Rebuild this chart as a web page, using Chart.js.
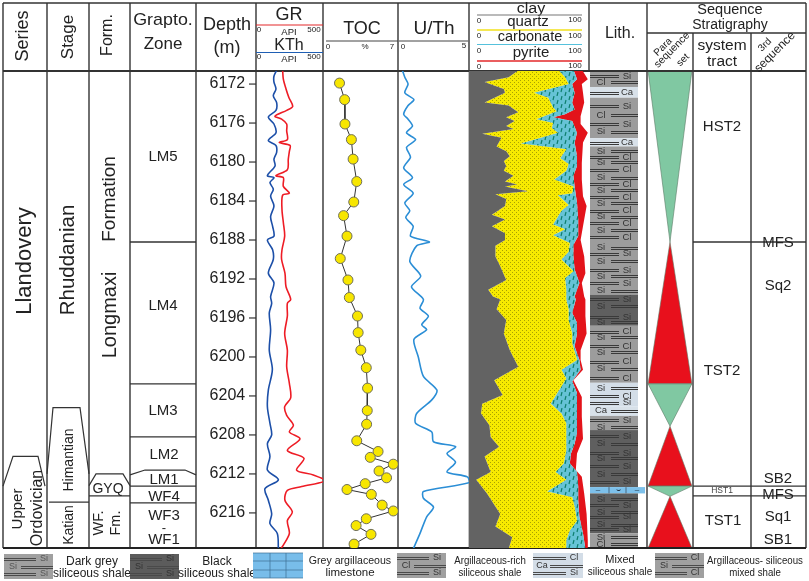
<!DOCTYPE html>
<html>
<head>
<meta charset="utf-8">
<script src="https://cdn.jsdelivr.net/npm/chart.js@4"></script>
<style>
  html, body { margin: 0; padding: 0; background: #fff; }
  canvas { display: block; }
</style>
</head>
<body>
<canvas id="well_chart" width="809" height="581"></canvas>
<script>
// column widths of the log, left to right
const columnIds = ['xSeries', 'xStage', 'xForm', 'xZone', 'xDepth', 'xGR', 'xTOC', 'xUTh', 'xComp', 'xLith', 'xPara', 'xTract', 'xSeq'];
const columnWidths = [44, 42, 41, 66, 60, 67, 75, 71, 120, 58, 46, 58, 55];

// GR / KTh (API)
const grDepth = [6170.6, 6171.5, 6172.5, 6173.4, 6174.3, 6174.7, 6175.3, 6175.6, 6176.1, 6176.8, 6177.7, 6178.0, 6178.3, 6178.9, 6179.7, 6180.8, 6181.4, 6181.6, 6182.5, 6183.2, 6183.4, 6184.9, 6186.2, 6187.6, 6189.0, 6190.0, 6191.4, 6192.8, 6194.1, 6194.5, 6195.8, 6197.6, 6199.3, 6201.0, 6202.7, 6204.2, 6205.1, 6206.0, 6207.0, 6207.7, 6208.4, 6209.6, 6210.4, 6211.6, 6212.1, 6212.7, 6213.3, 6213.7, 6214.7, 6215.9, 6216.8, 6218.1, 6219.3, 6219.7];
const grValues = [199, 204, 224, 246, 274, 229, 142, 191, 229, 229, 234, 174, 254, 249, 241, 234, 149, 204, 204, 249, 199, 194, 204, 214, 194, 191, 216, 224, 259, 234, 234, 214, 234, 229, 249, 259, 214, 229, 279, 249, 328, 234, 358, 303, 428, 515, 341, 234, 216, 271, 234, 249, 204, 184];
const kthDepth = [6170.6, 6171.2, 6171.8, 6172.5, 6173.2, 6173.9, 6174.7, 6175.4, 6176.1, 6177.0, 6177.8, 6178.3, 6179.0, 6179.7, 6180.4, 6181.4, 6181.6, 6182.1, 6182.8, 6183.5, 6184.5, 6185.6, 6186.6, 6187.6, 6188.0, 6189.0, 6190.0, 6191.4, 6192.4, 6193.8, 6194.5, 6195.5, 6197.2, 6199.3, 6201.3, 6203.4, 6205.1, 6206.8, 6208.0, 6208.9, 6210.2, 6211.6, 6212.6, 6213.5, 6214.7, 6216.1, 6217.1, 6218.1, 6219.7];
const kthValues = [154, 134, 134, 149, 129, 154, 149, 92, 134, 149, 92, 149, 154, 134, 142, 85, 134, 104, 129, 109, 134, 109, 124, 134, 85, 124, 129, 92, 134, 109, 117, 99, 109, 99, 122, 92, 85, 104, 117, 85, 104, 85, 167, 67, 92, 117, 104, 159, 167];

// TOC (%)
const tocDepth = [6171.9, 6173.6, 6176.1, 6177.7, 6179.7, 6182.0, 6184.1, 6185.5, 6187.6, 6189.9, 6192.1, 6193.9, 6195.8, 6197.5, 6199.3, 6201.1, 6203.2, 6205.5, 6206.9, 6208.6, 6209.7, 6210.3, 6211.0, 6211.7, 6212.4, 6213.0, 6213.6, 6214.1, 6215.2, 6215.8, 6216.6, 6217.3, 6218.2, 6219.2];
const tocValues = [1.54, 2.02, 2.05, 2.65, 2.81, 3.15, 2.87, 1.92, 2.24, 1.61, 2.33, 2.46, 3.22, 3.28, 3.53, 4.04, 4.16, 4.13, 4.07, 3.15, 5.14, 4.41, 6.56, 5.23, 5.93, 3.94, 2.24, 4.51, 5.52, 6.56, 4.04, 3.09, 4.48, 2.90];

// U/Th
const uthDepth = [6170.6, 6171.3, 6172.0, 6172.9, 6173.6, 6174.2, 6175.1, 6175.6, 6176.3, 6177.0, 6177.7, 6178.5, 6179.5, 6180.6, 6181.6, 6182.3, 6183.2, 6184.2, 6185.0, 6185.7, 6186.6, 6187.6, 6188.2, 6188.6, 6190.2, 6191.7, 6192.8, 6194.1, 6195.0, 6195.8, 6196.7, 6197.2, 6198.2, 6200.0, 6202.0, 6203.4, 6204.4, 6205.8, 6206.8, 6207.7, 6208.7, 6209.2, 6209.9, 6210.8, 6211.8, 6212.3, 6212.9, 6213.8, 6214.5, 6215.4, 6216.4, 6218.1, 6219.7];
const uthValues = [0.31, 0.48, 0.71, 0.48, 1.12, 0.71, 0.40, 0.71, 1.02, 0.60, 1.24, 0.60, 0.88, 0.40, 1.02, 0.40, 1.07, 0.48, 0.83, 0.55, 1.07, 0.88, 2.21, 1.31, 0.83, 1.60, 0.95, 1.79, 1.55, 2.14, 1.67, 2.02, 1.12, 1.43, 1.79, 2.74, 2.38, 1.31, 1.24, 2.38, 2.50, 4.05, 3.45, 4.05, 3.45, 4.88, 5.00, 1.79, 1.79, 2.50, 2.02, 1.55, 1.07];

// mineral composition, right edge of each layer (cumulative %)
const clayDepth = [6170.6, 6171.3, 6171.8, 6172.2, 6172.5, 6172.9, 6173.9, 6174.2, 6174.9, 6175.4, 6175.8, 6176.3, 6176.6, 6177.1, 6177.5, 6178.4, 6178.9, 6179.4, 6179.9, 6180.4, 6180.9, 6181.4, 6182.0, 6182.3, 6182.5, 6183.0, 6183.3, 6183.8, 6184.5, 6185.4, 6185.9, 6186.6, 6187.3, 6188.0, 6188.6, 6189.7, 6190.7, 6192.1, 6193.1, 6193.8, 6194.1, 6195.1, 6196.2, 6197.6, 6199.3, 6201.0, 6202.4, 6203.9, 6204.8, 6205.8, 6207.0, 6208.2, 6209.2, 6210.2, 6211.8, 6212.6, 6214.0, 6216.1, 6217.4, 6218.5, 6219.7];
const clayEdge = [41, 33, 13, 22, 29, 30, 13, 33, 41, 31, 38, 31, 37, 11, 27, 23, 31, 34, 29, 31, 29, 37, 30, 40, 30, 49, 22, 31, 30, 19, 30, 19, 30, 30, 22, 22, 26, 31, 16, 20, 26, 23, 31, 29, 34, 41, 21, 28, 11, 10, 17, 18, 25, 13, 18, 6, 15, 26, 22, 36, 33];
const quartzDepth = [6170.5, 6171.3, 6172.0, 6172.9, 6173.4, 6174.4, 6174.8, 6175.6, 6176.0, 6176.5, 6177.0, 6178.1, 6178.7, 6179.6, 6180.2, 6180.9, 6181.8, 6182.5, 6183.2, 6183.4, 6184.4, 6185.0, 6186.4, 6186.9, 6187.5, 6188.3, 6189.2, 6190.0, 6191.2, 6191.9, 6193.1, 6194.1, 6195.1, 6196.2, 6197.6, 6198.6, 6200.3, 6201.3, 6202.2, 6203.2, 6204.8, 6205.8, 6206.8, 6208.2, 6209.6, 6210.9, 6211.8, 6212.6, 6213.8, 6214.4, 6215.4, 6216.8, 6217.8, 6218.8, 6219.7];
const quartzEdge = [74, 80, 83, 54, 66, 70, 73, 56, 70, 69, 74, 43, 81, 76, 83, 81, 71, 87, 86, 74, 83, 77, 70, 80, 70, 84, 83, 77, 87, 80, 81, 81, 83, 83, 86, 86, 90, 77, 81, 76, 68, 77, 81, 81, 81, 79, 72, 81, 65, 86, 88, 90, 84, 81, 81];
const carbonateDepth = [6170.5, 6171.5, 6172.0, 6172.9, 6173.9, 6174.6, 6175.1, 6175.4, 6175.8, 6177.0, 6178.0, 6179.4, 6180.4, 6181.4, 6182.5, 6184.2, 6185.9, 6187.6, 6188.5, 6189.7, 6191.0, 6192.4, 6193.8, 6194.1, 6195.5, 6196.5, 6197.6, 6198.9, 6200.3, 6201.3, 6202.5, 6203.7, 6205.8, 6207.8, 6208.9, 6209.9, 6210.9, 6211.8, 6213.3, 6214.7, 6216.4, 6218.1, 6219.7];
const carbonateEdge = [87, 90, 86, 88, 86, 88, 80, 70, 86, 90, 88, 90, 90, 87, 88, 90, 91, 91, 87, 87, 88, 92, 88, 89, 86, 90, 90, 88, 92, 93, 86, 90, 90, 90, 88, 85, 84, 90, 91, 91, 92, 95, 97];
const pyriteDepth = [6170.5, 6171.5, 6172.0, 6172.9, 6173.9, 6175.3, 6176.1, 6177.0, 6178.0, 6180.1, 6181.8, 6183.5, 6184.5, 6186.6, 6188.0, 6189.7, 6191.4, 6192.4, 6193.8, 6194.1, 6195.8, 6197.6, 6199.3, 6200.3, 6201.3, 6202.4, 6204.1, 6206.1, 6208.4, 6209.9, 6211.6, 6212.3, 6214.0, 6216.1, 6218.8, 6219.7];
const pyriteEdge = [94, 99, 94, 95, 96, 93, 93, 99, 95, 94, 94, 95, 98, 95, 93, 96, 97, 94, 96, 97, 97, 98, 93, 93, 95, 87, 94, 94, 95, 90, 89, 94, 96, 98, 99, 99];

// lithology
const lithBandTop = [6170.66, 6172.3, 6173.4, 6177.55, 6178.4, 6193.6, 6196.8, 6202.65, 6205.1, 6206.05, 6207.5, 6213.35, 6214.0, 6218.1];
const lithBandBase = [6172.3, 6173.4, 6177.55, 6178.4, 6193.6, 6196.8, 6202.65, 6205.1, 6206.05, 6207.5, 6213.35, 6214.0, 6218.1, 6219.6];
const lithBandType = ['grey', 'ca', 'grey', 'ca', 'grey', 'dark', 'grey', 'light', 'ca', 'grey', 'dark', 'lime', 'dark', 'grey'];
const lithRowDepth = [6171.2, 6171.8, 6172.9, 6174.3, 6175.2, 6176.1, 6176.9, 6178.0, 6178.9, 6179.5, 6180.0, 6180.8, 6181.6, 6182.3, 6182.9, 6183.6, 6184.2, 6185.0, 6185.6, 6186.3, 6187.0, 6187.7, 6188.8, 6189.4, 6190.2, 6191.1, 6191.7, 6192.4, 6193.2, 6194.1, 6194.8, 6195.9, 6196.4, 6197.4, 6198.0, 6198.9, 6199.5, 6200.5, 6201.2, 6202.2, 6203.2, 6204.0, 6204.7, 6205.5, 6206.5, 6207.2, 6208.1, 6208.9, 6209.9, 6210.4, 6211.2, 6212.0, 6212.8, 6214.6, 6215.2, 6215.9, 6216.4, 6217.2, 6217.7, 6218.5, 6219.2];
const lithRowText = ['Si', 'Cl', 'Ca', 'Si', 'Cl', 'Si', 'Si', 'Ca', 'Si', 'Cl', 'Si', 'Cl', 'Si', 'Cl', 'Si', 'Cl', 'Si', 'Cl', 'Si', 'Cl', 'Si', 'Cl', 'Si', 'Si', 'Si', 'Si', 'Si', 'Si', 'Si', 'Si', 'Si', 'Si', 'Si', 'Cl', 'Si', 'Cl', 'Si', 'Cl', 'Si', 'Cl', 'Si', 'Cl', 'Si', 'Ca', 'Si', 'Si', 'Si', 'Si', 'Si', 'Si', 'Si', 'Si', 'Si', 'Si', 'Si', 'Si', 'Si', 'Si', 'Si', 'Si', 'Cl'];
const lithRowSide = 'RLRRLRLRLRLRLRLRLRLRLRLRLRLRLRLRLRLRLRLRLRRLRLRLRLRLRLRLRLR';

// stratigraphy boundaries
const zoneBoundaries = [6188.2, 6202.76, 6208.2, 6213.25, 6214.97];
const paraTop = [6170.66, 6188.2, 6202.76, 6207.1, 6213.25, 6214.3];
const paraBase = [6188.2, 6202.76, 6207.1, 6213.25, 6214.3, 6219.6];
const paraKind = ['down', 'up', 'down', 'up', 'down', 'up'];
const tractBoundaries = [6188.2, 6213.25, 6214.25];
const depthTicks = 4;

const makePattern = (bg, draw, size) => {
  const c = document.createElement('canvas');
  c.width = size; c.height = size;
  const g = c.getContext('2d');
  g.fillStyle = bg;
  g.fillRect(0, 0, size, size);
  draw(g);
  return g.createPattern(c, 'repeat');
};
const quartzFill = makePattern('#f7ea00', g => {
  g.fillStyle = '#a9a200';
  g.fillRect(0, 0, 1, 1);
  g.fillRect(2, 2, 1, 1);
}, 4);
const carbonateFill = makePattern('#66c3d6', g => {
  g.strokeStyle = '#0f7f6e';
  g.lineWidth = 1.2;
  g.beginPath();
  g.moveTo(2, 0); g.lineTo(1, 4);
  g.moveTo(6, 4); g.lineTo(5, 8);
  g.stroke();
}, 8);

const FONT = '"Liberation Sans", Arial, sans-serif';
const INK = '#222';

const pairs = (ys, xs) => ys.map((d, i) => ({x: xs[i], y: d}));
const trace = (label, xAxisID, ys, xs, color, extra) => Object.assign({
  label, xAxisID, yAxisID: 'y', indexAxis: 'y',
  data: pairs(ys, xs),
  borderColor: color, backgroundColor: color,
  borderWidth: 1.6, pointRadius: 0, tension: 0, fill: false
}, extra || {});

const text = (ctx, s, x, y, size, opts) => {
  opts = opts || {};
  ctx.save();
  ctx.translate(x, y);
  if (opts.rot) ctx.rotate(opts.rot * Math.PI / 180);
  if (opts.sx) ctx.scale(opts.sx, 1);
  ctx.font = size + 'px ' + FONT;
  ctx.fillStyle = opts.color || INK;
  ctx.textAlign = 'center';
  ctx.textBaseline = 'middle';
  ctx.fillText(s, 0, 0);
  ctx.restore();
};
const seg = (ctx, x1, y1, x2, y2, color, w) => {
  ctx.strokeStyle = color || '#333';
  ctx.lineWidth = w || 1.4;
  ctx.beginPath();
  ctx.moveTo(x1, y1);
  ctx.lineTo(x2, y2);
  ctx.stroke();
};
const poly = (ctx, pts) => {
  ctx.strokeStyle = '#333';
  ctx.lineWidth = 1.2;
  ctx.beginPath();
  pts.forEach((p, i) => i ? ctx.lineTo(p[0], p[1]) : ctx.moveTo(p[0], p[1]));
  ctx.stroke();
};

const bandColors = {grey: '#9c9c9c', dark: '#5f5f5f', light: '#d3dde7', ca: '#d8e1e9', lime: '#7dc0ea'};

const doubleLine = (ctx, a, b, py, color) => {
  const y0 = Math.round(py);
  seg(ctx, a, y0 - 0.5, b, y0 - 0.5, color, 1);
  seg(ctx, a, y0 + 1.5, b, y0 + 1.5, color, 1);
};

const swatch = (ctx, x, y, w, h, bg, labels) => {
  ctx.fillStyle = bg;
  ctx.fillRect(x, y, w, h);
  const rows = [y + 5, y + h / 2, y + h - 5];
  labels.forEach((l, i) => {
    const right = i % 2 === 0;
    text(ctx, l[0], right ? x + w - 9 : x + 9, rows[i], 9, {color: l[1]});
    doubleLine(ctx, right ? x : x + 17, right ? x + w - 17 : x + w, rows[i], '#4a4a4a');
  });
};

const wellLogPlugin = {
  id: 'wellLog',
  beforeDatasetsDraw(chart) {
    const {ctx, scales, chartArea} = chart;
    const y = scales.y;
    const top = 3, head = chartArea.top, bottom = chartArea.bottom;
    const L = id => scales[id].left, R = id => scales[id].right;

    // lithology column
    const lx0 = L('xLith') + 1, lx1 = R('xLith') - 9;
    lithBandTop.forEach((t, i) => {
      const y0 = y.getPixelForValue(t), y1 = y.getPixelForValue(lithBandBase[i]);
      const type = lithBandType[i];
      ctx.fillStyle = bandColors[type];
      ctx.fillRect(lx0, y0, (type === 'lime' ? R('xLith') - 2 : lx1) - lx0, y1 - y0);
      if (type === 'lime') {
        seg(ctx, lx0 + 19, y0, lx0 + 19, y1, '#345', 0.7);
        seg(ctx, lx0 + 36, y0, lx0 + 36, y1, '#345', 0.7);
        text(ctx, '–', lx0 + 8, (y0 + y1) / 2, 8, {color: '#234'});
        text(ctx, '⌣', lx0 + 28, (y0 + y1) / 2, 8, {color: '#234'});
        text(ctx, '–', lx0 + 47, (y0 + y1) / 2, 8, {color: '#234'});
      }
    });
    lithRowDepth.forEach((d, i) => {
      const py = y.getPixelForValue(d);
      const right = lithRowSide[i] === 'R';
      text(ctx, lithRowText[i], right ? lx1 - 11 : lx0 + 11, py, 9.5, {color: '#333'});
      doubleLine(ctx, right ? lx0 : lx0 + 21, right ? lx1 - 19 : lx1, py, '#3a3a3a');
    });

    // parasequence triangles
    const px = scales.xPara;
    paraTop.forEach((t, i) => {
      const y0 = y.getPixelForValue(t), y1 = y.getPixelForValue(paraBase[i]);
      ctx.beginPath();
      if (paraKind[i] === 'down') {
        ctx.moveTo(px.getPixelForValue(-1), y0);
        ctx.lineTo(px.getPixelForValue(1), y0);
        ctx.lineTo(px.getPixelForValue(0), y1);
        ctx.fillStyle = '#80c8a2';
      } else {
        ctx.moveTo(px.getPixelForValue(0), y0);
        ctx.lineTo(px.getPixelForValue(1), y1);
        ctx.lineTo(px.getPixelForValue(-1), y1);
        ctx.fillStyle = '#e8101c';
      }
      ctx.closePath();
      ctx.fill();
      ctx.strokeStyle = '#5c7a66';
      ctx.lineWidth = 0.6;
      ctx.stroke();
    });

    // depth tick marks
    y.ticks.forEach(t => {
      const py = y.getPixelForValue(t.value);
      seg(ctx, L('xGR') - 7, py, L('xGR'), py, '#333', 1.2);
    });

    // frame
    columnIds.forEach(id => {
      const x = L(id);
      if (id === 'xLith') seg(ctx, x, top, x, head);
      else if (id === 'xComp') {
        seg(ctx, x, top, x, head);
        seg(ctx, x, head, x, bottom, '#666', 0.8);
      } else if (id === 'xTract' || id === 'xSeq') seg(ctx, x, 33, x, bottom);
      else seg(ctx, x, top, x, bottom);
    });
    seg(ctx, R('xSeq'), top, R('xSeq'), bottom);
    seg(ctx, L('xSeries'), top, R('xSeq'), top);
    seg(ctx, L('xSeries'), head, R('xSeq'), head, '#333', 1.8);
    seg(ctx, L('xSeries'), bottom, R('xSeq'), bottom, '#222', 1.8);
    seg(ctx, L('xPara'), 33, R('xSeq'), 33);

    zoneBoundaries.forEach(d => {
      const py = y.getPixelForValue(d);
      seg(ctx, L('xZone'), py, R('xZone'), py);
    });
    tractBoundaries.forEach(d => {
      const py = y.getPixelForValue(d);
      seg(ctx, L('xTract'), py, R('xSeq'), py);
    });

    // stage / formation outlines
    const v = d => y.getPixelForValue(d);
    const sL = L('xSeries'), sR = R('xSeries');
    poly(ctx, [[sL, v(6213.25)], [sL + 10, v(6210.2)], [sR - 9, v(6210.2)], [sR - 2, v(6213.25)]]);
    const gL = L('xStage'), gR = R('xStage');
    poly(ctx, [[gL, v(6212.0)], [gL + 6, v(6205.2)], [gR - 9, v(6205.2)], [gR, v(6212.0)]]);
    seg(ctx, gL + 2, v(6214.9), gR, v(6214.9), '#333', 1.2);
    const fL = L('xForm'), fR = R('xForm');
    poly(ctx, [[fL, v(6213.2)], [fL + 7, v(6212.0)], [fR - 7, v(6212.0)], [fR, v(6213.2)]]);
    seg(ctx, fL, v(6214.25), fR, v(6214.25), '#333', 1.2);
    const zL = L('xZone'), zR = R('xZone');
    poly(ctx, [[zL, v(6212.1)], [zL + 15, v(6211.6)], [zR - 11, v(6211.6)], [zR, v(6212.1)]]);
  },
  afterDatasetsDraw(chart) {
    const {ctx} = chart;

    // column titles
    text(ctx, 'Series', 23, 36, 18, {rot: -90});
    text(ctx, 'Stage', 68, 37, 17, {rot: -90});
    text(ctx, 'Form.', 108, 35, 16, {rot: -90});
    text(ctx, 'Grapto.', 163, 20, 17, {sx: 1.05});
    text(ctx, 'Zone', 163, 44, 17);
    text(ctx, 'Depth', 227, 25, 18);
    text(ctx, '(m)', 227, 48, 18);

    // GR / KTh header
    text(ctx, 'GR', 289, 15, 18);
    seg(ctx, 256, 25, 323, 25, '#e3282a', 1.2);
    text(ctx, '0', 259, 30, 8);
    text(ctx, 'API', 289, 32, 9.5);
    text(ctx, '500', 314, 30, 8);
    text(ctx, 'KTh', 289, 46, 16);
    seg(ctx, 256, 52.5, 323, 52.5, '#1f5fb4', 1.2);
    text(ctx, '0', 259, 57, 8);
    text(ctx, 'API', 289, 59, 9.5);
    text(ctx, '500', 314, 57, 8);

    // TOC, U/Th header
    text(ctx, 'TOC', 362, 29, 18);
    seg(ctx, 326, 41, 398, 41, '#444', 1);
    text(ctx, '0', 328, 47, 8);
    text(ctx, '%', 365, 47, 8);
    text(ctx, '7', 392, 47, 8);
    text(ctx, 'U/Th', 434, 29, 19);
    seg(ctx, 399, 41, 468, 41, '#444', 1);
    text(ctx, '0', 403, 47, 8);
    text(ctx, '5', 464, 46, 8);

    // composition header
    text(ctx, 'clay', 531, 9, 14, {sx: 1.15});
    seg(ctx, 477, 15, 582, 15, '#777', 1.2);
    text(ctx, '0', 479, 21, 8);
    text(ctx, 'quartz', 528, 22, 15);
    text(ctx, '100', 575, 20, 8);
    seg(ctx, 477, 30, 582, 30, '#f2e11b', 1.4);
    text(ctx, '0', 479, 36, 8);
    text(ctx, 'carbonate', 530, 37, 14.5);
    text(ctx, '100', 575, 36, 8);
    seg(ctx, 477, 44.5, 582, 44.5, '#55c1dc', 1.2);
    text(ctx, '0', 479, 51, 8);
    text(ctx, 'pyrite', 531, 53, 15);
    text(ctx, '100', 575, 51, 8);
    seg(ctx, 477, 61, 582, 61, '#e3282a', 1.4);
    text(ctx, '0', 479, 67, 8);
    text(ctx, '100', 575, 66, 8);

    text(ctx, 'Lith.', 620, 34, 16);
    text(ctx, 'Sequence', 730, 10, 14.5);
    text(ctx, 'Stratigraphy', 730, 25, 14);
    text(ctx, 'Para', 663, 47, 10, {rot: -45});
    text(ctx, 'sequence', 672, 50, 10.5, {rot: -45});
    text(ctx, 'set', 683, 60, 10, {rot: -45});
    text(ctx, '3rd', 765, 45, 10, {rot: -45});
    text(ctx, 'sequence', 775, 52, 12, {rot: -45});
    text(ctx, 'system', 722, 46, 15.5);
    text(ctx, 'tract', 722, 62, 15.5);

    // stratigraphic names
    text(ctx, 'Llandovery', 25, 261, 22, {rot: -90});
    text(ctx, 'Rhuddanian', 68, 260, 20.5, {rot: -90});
    text(ctx, 'Formation', 110, 199, 19, {rot: -90});
    text(ctx, 'Longmaxi', 110, 315, 20, {rot: -90});
    text(ctx, 'Upper', 18, 509, 15, {rot: -90});
    text(ctx, 'Ordovician', 38, 508, 16, {rot: -90});
    text(ctx, 'Himantian', 69, 460, 14, {rot: -90});
    text(ctx, 'Katian', 69, 525, 14, {rot: -90});
    text(ctx, 'GYQ', 108, 489, 14);
    text(ctx, 'WF.', 99, 523, 14.5, {rot: -90});
    text(ctx, 'Fm.', 116, 523, 14.5, {rot: -90});
    text(ctx, 'LM5', 163, 157, 15);
    text(ctx, 'LM4', 163, 306, 15);
    text(ctx, 'LM3', 163, 411, 15);
    text(ctx, 'LM2', 164, 455, 15);
    text(ctx, 'LM1', 164, 480, 15);
    text(ctx, 'WF4', 164, 497, 15);
    text(ctx, 'WF3', 164, 516, 15);
    text(ctx, '-', 164, 528, 13);
    text(ctx, 'WF1', 164, 540, 15);

    // systems tracts and sequences
    text(ctx, 'HST2', 722, 127, 15);
    text(ctx, 'TST2', 722, 371, 15);
    text(ctx, 'HST1', 722, 491, 8.5, {color: '#444'});
    text(ctx, 'TST1', 723, 521, 15);
    text(ctx, 'MFS', 778, 243, 15);
    text(ctx, 'Sq2', 778, 286, 15);
    text(ctx, 'SB2', 778, 479, 15);
    text(ctx, 'MFS', 778, 495, 15);
    text(ctx, 'Sq1', 778, 517, 15);
    text(ctx, 'SB1', 778, 540, 15);

    // legend
    swatch(ctx, 4, 554, 49, 25, '#a0a0a0', [['Si', '#555'], ['Si', '#555'], ['Si', '#555']]);
    text(ctx, 'Dark grey', 92, 562, 12);
    text(ctx, 'siliceous shale', 92, 574, 12);
    swatch(ctx, 130, 554, 49, 25, '#5c5c5c', [['Si', '#333'], ['Si', '#333'], ['Si', '#333']]);
    text(ctx, 'Black', 217, 562, 12);
    text(ctx, 'siliceous shale', 217, 574, 12);
    ctx.fillStyle = '#78bdea';
    ctx.fillRect(253, 553, 50, 25);
    [553, 561, 570, 578].forEach(py => seg(ctx, 253, py, 303, py, '#3d6f92', 0.7));
    [270, 286].forEach(px => seg(ctx, px, 553, px, 578, '#3d6f92', 0.7));
    text(ctx, 'Grey argillaceous', 350, 561, 11.5, {sx: 0.92});
    text(ctx, 'limestone', 350, 573, 11.5);
    swatch(ctx, 397, 553, 49, 25, '#a0a0a0', [['Si', '#333'], ['Cl', '#333'], ['Si', '#333']]);
    text(ctx, 'Argillaceous-rich', 490, 561, 11, {sx: 0.88});
    text(ctx, 'siliceous shale', 490, 573, 11, {sx: 0.88});
    swatch(ctx, 533, 553, 50, 25, '#d3dde7', [['Cl', '#333'], ['Ca', '#333'], ['Si', '#333']]);
    text(ctx, 'Mixed', 620, 560, 11);
    text(ctx, 'siliceous shale', 620, 572, 11, {sx: 0.9});
    swatch(ctx, 655, 553, 49, 25, '#a0a0a0', [['Cl', '#333'], ['Si', '#333'], ['Cl', '#333']]);
    text(ctx, 'Argillaceous- siliceous', 755, 561, 11, {sx: 0.88});
    text(ctx, 'mixed shale', 755, 573, 11, {sx: 0.88});
  }
};

const scales = {
  y: {
    type: 'linear', reverse: true, min: 6170.66, max: 6219.6,
    position: {xDepth: 82},
    border: {display: false},
    grid: {drawOnChartArea: false, drawTicks: false},
    ticks: {stepSize: depthTicks, includeBounds: false, padding: 0, color: INK,
      font: {family: FONT, size: 16}, callback: v => v}
  }
};
columnIds.forEach((id, i) => {
  scales[id] = {type: 'linear', display: false, stack: 'cols', stackWeight: columnWidths[i], min: 0, max: 100};
});
scales.xGR.max = 500;
scales.xTOC.max = 7;
scales.xUTh.max = 5;
scales.xPara.min = -1.05;
scales.xPara.max = 1.05;

new Chart(document.getElementById('well_chart'), {
  type: 'line',
  data: {
    datasets: [
      trace('clay', 'xComp', clayDepth, clayEdge, '#636363', {borderWidth: 0, fill: {value: 0}}),
      trace('quartz', 'xComp', quartzDepth, quartzEdge, quartzFill, {borderWidth: 0, fill: '-1'}),
      trace('carbonate', 'xComp', carbonateDepth, carbonateEdge, carbonateFill, {borderWidth: 0, fill: '-1'}),
      trace('pyrite', 'xComp', pyriteDepth, pyriteEdge, '#e3131a', {borderWidth: 0, fill: '-1'}),
      trace('GR', 'xGR', grDepth, grValues, '#ee1c25', {tension: 0.3}),
      trace('KTh', 'xGR', kthDepth, kthValues, '#1c4fa8', {tension: 0.3}),
      trace('U/Th', 'xUTh', uthDepth, uthValues, '#2b8ed6', {tension: 0.25}),
      trace('TOC', 'xTOC', tocDepth, tocValues, '#333', {
        borderWidth: 1, pointRadius: 5, pointBackgroundColor: '#f7e600',
        pointBorderColor: '#6e6e5a', pointBorderWidth: 1
      })
    ]
  },
  options: {
    responsive: false,
    animation: false,
    layout: {autoPadding: false, padding: {left: 3, right: 3, top: 71, bottom: 33}},
    plugins: {legend: {display: false}, tooltip: {enabled: false}},
    scales: scales
  },
  plugins: [wellLogPlugin]
});
</script>
</body>
</html>
